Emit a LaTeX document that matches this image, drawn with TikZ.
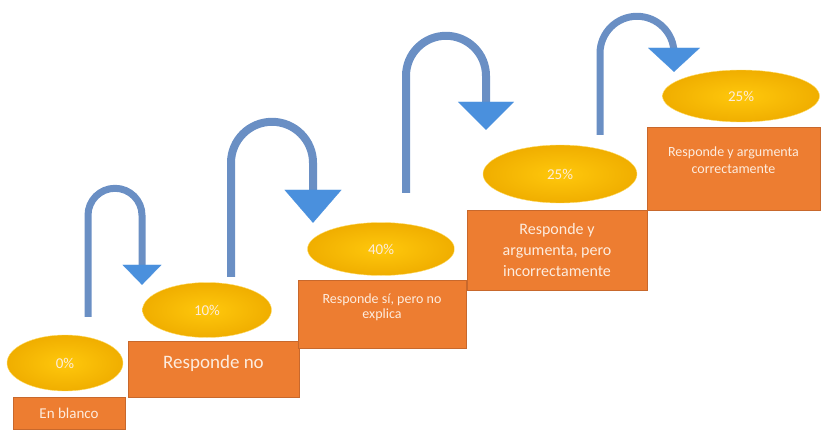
\documentclass[tikz,border=0pt]{standalone}
\usepackage{fontspec}
\setmainfont{Carlito}
\usetikzlibrary{arrows.meta,shapes.geometric,calc}
\definecolor{stepfill}{RGB}{237,125,49}
\definecolor{stepline}{RGB}{200,104,44}
\definecolor{steptext}{RGB}{253,236,222}
\definecolor{goldin}{RGB}{255,200,12}
\definecolor{goldout}{RGB}{240,174,0}
\definecolor{shaftblue}{RGB}{106,143,196}
\definecolor{headblue}{RGB}{74,144,221}

\begin{document}
\begin{tikzpicture}[
    x=1pt, y=1pt,
    stepbox/.style={draw=stepline, fill=stepfill, text=steptext,
      rectangle, inner sep=0pt, align=center},
    score/.style={ellipse, inner sep=0pt, shade, inner color=goldin,
      outer color=goldout, draw=goldin!60!white, text=steptext,
      font=\fontsize{15}{17}\selectfont},
    jump/.style={draw=shaftblue, line width=7pt},
    head/.style n args={2}{-{Triangle[width=#1, length=#2,
      fill=headblue, color=headblue, line width=0.1pt]}}
  ]
  \useasboundingbox (0,0) rectangle (824,429);

  \node[stepbox, minimum width=112, minimum height=32,
    font=\fontsize{15}{17}\selectfont] (b1) at (69,16) {En blanco};
  \node[stepbox, minimum width=171, minimum height=56, text depth=15pt,
    font=\fontsize{19}{22}\selectfont] (b2) at (213.5,60) {Responde no};
  \node[stepbox, minimum width=168, minimum height=68, text depth=16.5pt,
    font=\fontsize{14}{15}\selectfont] (b3) at (382,115)
    {Responde sí, pero no\\explica};
  \node[stepbox, minimum width=180, minimum height=80,
    font=\fontsize{16}{21}\selectfont] (b4) at (557,179)
    {Responde y\\argumenta, pero\\incorrectamente};
  \node[stepbox, minimum width=173, minimum height=83, text depth=17.5pt,
    font=\fontsize{14}{17}\selectfont] (b5) at (733.5,260.5)
    {Responde y argumenta\\correctamente};

  \node[score, minimum width=116, minimum height=56] (e1) at (65,66) {0\%};
  \node[score, minimum width=129, minimum height=55] (e2) at (207,119) {10\%};
  \node[score, minimum width=147, minimum height=53] (e3) at (381,180) {40\%};
  \node[score, minimum width=154, minimum height=58] (e4) at (560,255) {25\%};
  \node[score, minimum width=157, minimum height=52] (e5) at (741,333) {25\%};

  \coordinate (s1) at ($(e1.north)+(23,18)$);
  \coordinate (t1) at ($(e2.north)+(-65,-2.5)$);
  \coordinate (s2) at ($(e2.north)+(24,5.5)$);
  \coordinate (t2) at ($(e3.north)+(-68,-0.5)$);
  \coordinate (s3) at ($(e3.north)+(25,29.5)$);
  \coordinate (t3) at ($(e4.north)+(-74,15)$);
  \coordinate (s4) at ($(e4.north)+(40,10)$);
  \coordinate (t4) at ($(e5.north)+(-67,-2)$);

  \draw[jump, head={39pt}{20pt}] (s1) -- ++(0,101.5)
    arc[start angle=180, end angle=0, radius=27] -- (t1);
  \draw[jump, line width=8pt, head={57pt}{33pt}] (s2) -- ++(0,114)
    arc[start angle=180, end angle=0, radius=41] -- (t2);
  \draw[jump, line width=8pt, head={56pt}{28pt}] (s3) -- ++(0,117)
    arc[start angle=180, end angle=0, radius=40] -- (t3);
  \draw[jump, head={52pt}{24pt}] (s4) -- ++(0,81.5)
    arc[start angle=180, end angle=0, radius=37] -- (t4);
\end{tikzpicture}
\end{document}
